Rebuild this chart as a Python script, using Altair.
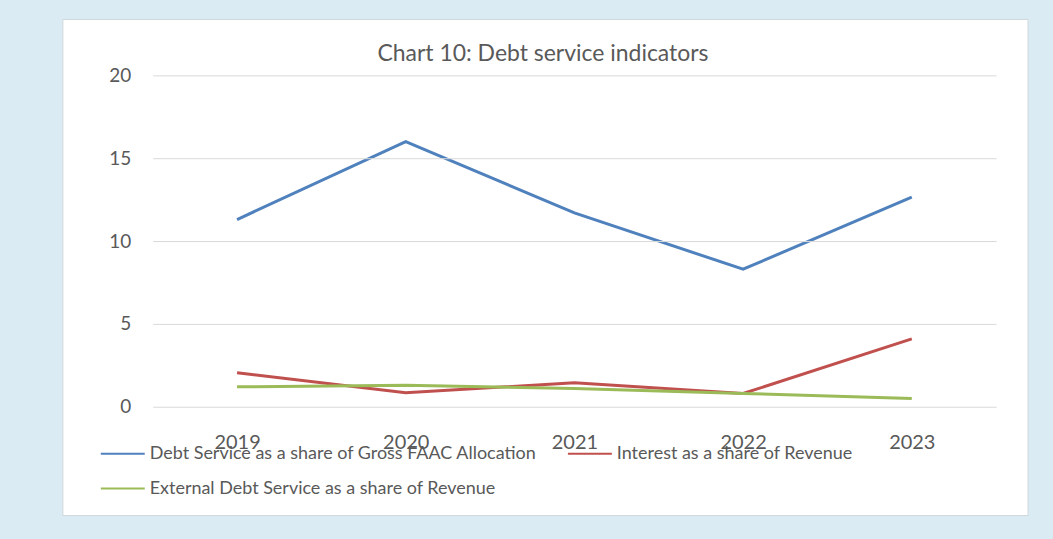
import altair as alt
import pandas as pd

years = ["2019", "2020", "2021", "2022", "2023"]
debt_faac = [11.3, 16.0, 11.7, 8.3, 12.65]
interest = [2.05, 0.85, 1.45, 0.8, 4.1]
ext_debt = [1.2, 1.3, 1.1, 0.8, 0.5]

s1 = "Debt Service as a share of Gross FAAC Allocation"
s2 = "Interest as a share of Revenue"
s3 = "External Debt Service as a share of Revenue"
series_names = [s1, s2, s3]
series_colors = ["#4f81bd", "#c0504d", "#9bbb59"]
title_text = ["Chart 10: Debt service indicators"]

rows = []
for name, vals in zip(series_names, [debt_faac, interest, ext_debt]):
    for y, v in zip(years, vals):
        rows.append({"year": y, "value": v, "series": name})
df = pd.DataFrame(rows)

FONT = "Lato"

panel = alt.Chart(pd.DataFrame({"a": [0]})).mark_rect(
    fill="white", stroke="#d0d7db", strokeWidth=1
).encode(
    x=alt.value(-90), x2=alt.value(877), y=alt.value(-56), y2=alt.value(441)
)

title = alt.Chart(pd.DataFrame({"t": title_text})).mark_text(
    font=FONT, fontSize=23, color="#595959", align="center", baseline="middle"
).encode(text="t:N", x=alt.value(391), y=alt.value(-21))

lines = alt.Chart(df).mark_line(strokeWidth=3).encode(
    x=alt.X("year:N", sort=years, title=None,
            scale=alt.Scale(type="point", padding=0.5),
            axis=alt.Axis(labelAngle=0, labelFontSize=20, labelColor="#595959",
                          labelFont=FONT, labelPadding=26, domain=False, ticks=False,
                          grid=False, zindex=1)),
    y=alt.Y("value:Q", title=None, scale=alt.Scale(domain=[0, 20], nice=False),
            axis=alt.Axis(values=[0, 5, 10, 15, 20], labelFontSize=19,
                          labelColor="#595959", labelFont=FONT, labelPadding=22,
                          domain=False, ticks=False, grid=True, gridColor="#d9d9d9",
                          gridWidth=1, zindex=1)),
    color=alt.Color("series:N", scale=alt.Scale(domain=series_names, range=series_colors),
                    legend=alt.Legend(title=None, orient="none", legendX=-53, legendY=368,
                                      values=[s1, s3, s2],
                                      columns=2, columnPadding=30, rowPadding=13,
                                      symbolType="stroke", symbolSize=1936,
                                      symbolStrokeWidth=2, clipHeight=22,
                                      labelFontSize=18, labelFont=FONT, labelLimit=600,
                                      labelColor="#595959", labelOffset=4, padding=0)),
    order=alt.Order("year:N"),
)

chart = alt.layer(panel, title, lines).properties(
    width=845, height=332,
    padding={"left": 62, "top": 18, "right": 24, "bottom": 24},
    background="#daebf3",
).configure_view(strokeWidth=0)

chart.save("out.html", embed_options={"renderer": "svg", "actions": False})
